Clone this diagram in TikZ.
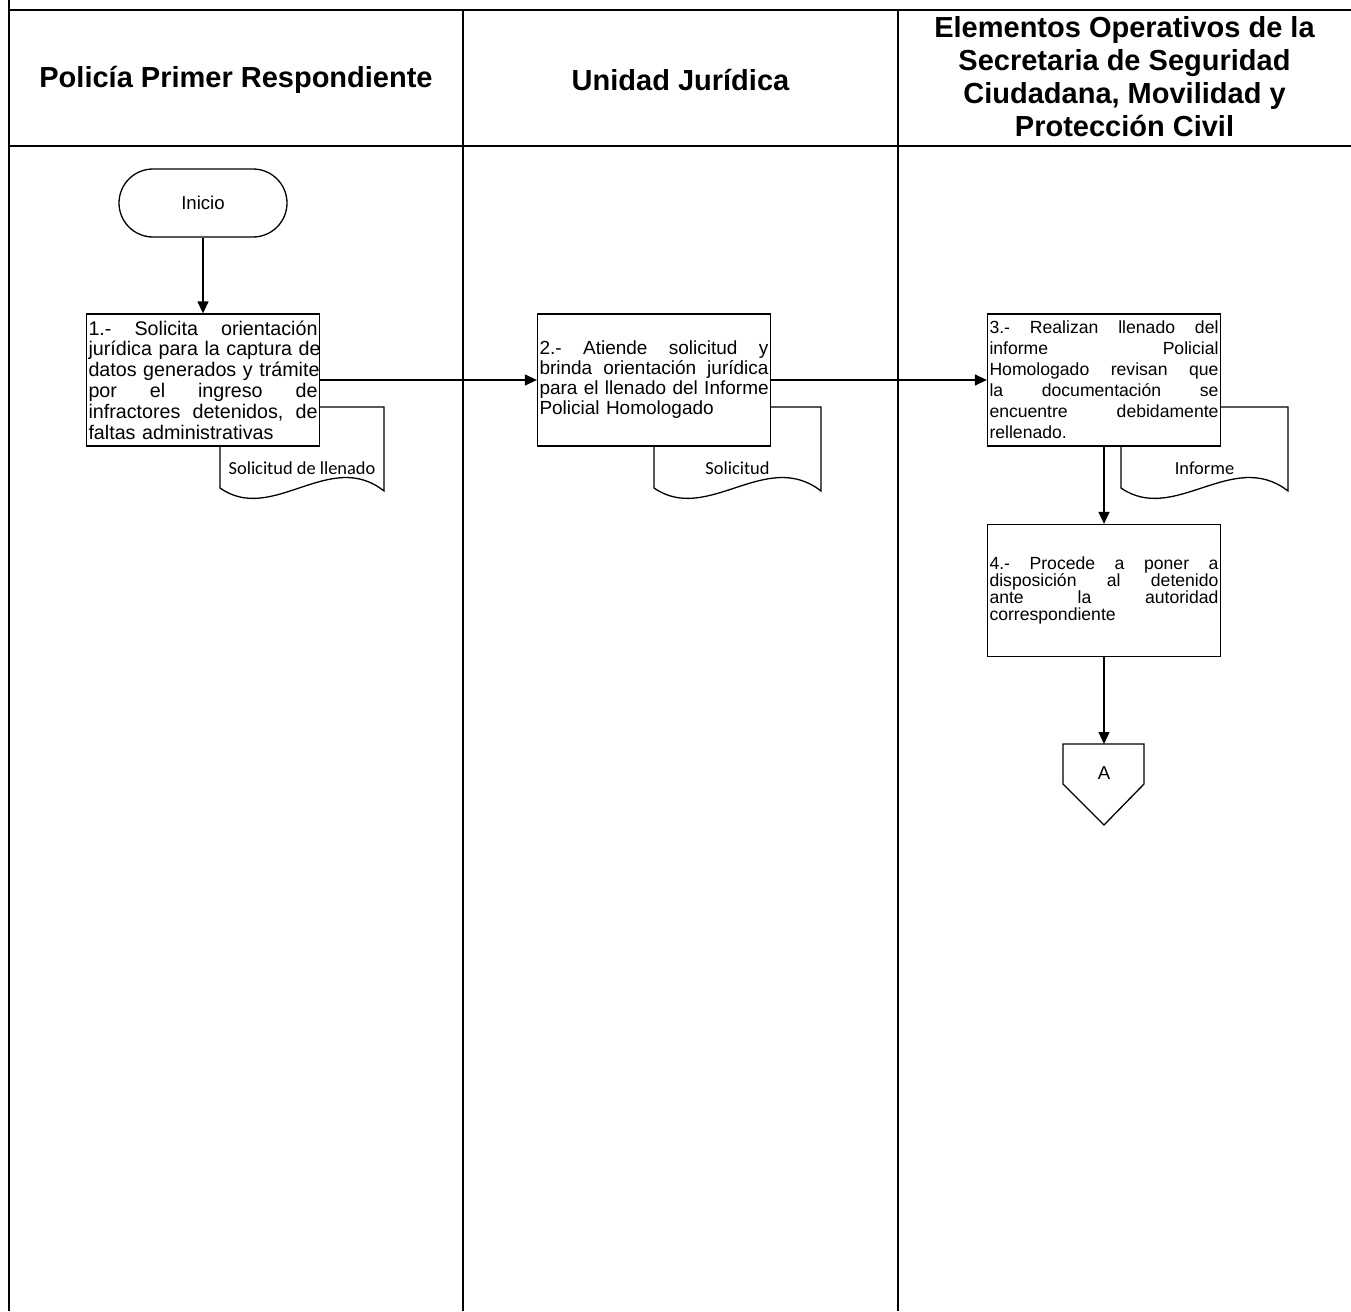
\documentclass[tikz,border=0pt]{standalone}
\usepackage{fontspec}
\setmainfont{Liberation Sans}
\newfontfamily\calib{Carlito}
\usetikzlibrary{arrows.meta}
\newcommand{\jline}[1]{\leavevmode\hbox to 229pt{#1}\\}
\newcommand{\docshape}[2]{%
  \draw[docstyle] (#1,407) -- (#2,407) -- (#2,491)
    .. controls ({#2-0.33*(#2-#1)},448) and ({#1+0.32*(#2-#1)},525) .. (#1,488) -- cycle;}
\begin{document}
\begin{tikzpicture}[x=1pt,y=-1pt,
  tbl/.style={line width=2pt},
  hdr/.style={font=\fontsize{29}{33}\selectfont\bfseries, align=center, inner sep=0pt},
  proc/.style={draw, line width=1.3pt, fill=white, minimum width=233pt, minimum height=132pt,
    inner sep=2pt, text width=229pt, align=left},
  docstyle/.style={draw, line width=1.3pt, fill=white},
  flow/.style={line width=1.3pt, -{Triangle[length=12pt,width=11pt]}},
  doclbl/.style={font=\calib\fontsize{18.4}{20}\selectfont, inner sep=0pt}
]
\useasboundingbox (0,0) rectangle (1351,1311);
% table
\draw[tbl] (9,0) -- (9,1311);
\draw[tbl] (8,10) -- (1351,10);
\draw[tbl] (8,146) -- (1351,146);
\draw[tbl] (463,10) -- (463,1311);
\draw[tbl] (898,10) -- (898,1311);
% headers
\node[hdr] (h1) at (236,80) {Policía Primer Respondiente};
\node[hdr] (h2) at (680.5,80) {Unidad Jurídica};
\node[hdr] (h3) at (1124.5,77) {Elementos Operativos de la\\Secretaria de Seguridad\\Ciudadana, Movilidad y\\Protección Civil};
% documents (behind boxes)
\docshape{220}{384}
\docshape{654}{821}
\docshape{1121}{1288}
\node[doclbl] (d1) at (302,468) {Solicitud de llenado};
\node[doclbl] (d2) at (737.5,468) {Solicitud};
\node[doclbl] (d3) at (1204.5,468) {Informe};
% start
\node[draw, line width=1.3pt, rounded corners=34pt, minimum width=168pt, minimum height=68pt,
  inner sep=0pt, font=\fontsize{18.6}{20}\selectfont] (start) at (203,203) {Inicio};
% process boxes
\node[proc, font=\fontsize{19.7}{20.8}\selectfont] (b1) at (203,380) {%
\jline{1.- \hfill Solicita \hfill orientación}
\jline{jurídica \hfill para \hfill la \hfill captura \hfill de}
\jline{datos \hfill generados \hfill y \hfill trámite}
\jline{por \hfill el \hfill ingreso \hfill de}
\jline{infractores \hfill detenidos, \hfill de}
faltas administrativas};
\node[proc, font=\fontsize{19}{20}\selectfont] (b2) at (654,380) {%
\jline{2.- \hfill Atiende \hfill solicitud \hfill y}
\jline{brinda \hfill orientación \hfill jurídica}
\jline{para \hfill el \hfill llenado \hfill del \hfill Informe}
Policial Homologado};
\node[proc, font=\fontsize{17.6}{21}\selectfont] (b3) at (1104,380) {%
\jline{3.- \hfill Realizan \hfill llenado \hfill del}
\jline{informe \hfill Policial}
\jline{Homologado \hfill revisan \hfill que}
\jline{la \hfill documentación \hfill se}
\jline{encuentre \hfill debidamente}
rellenado.};
\node[proc, font=\fontsize{17.6}{16.8}\selectfont] (b4) at (1104,590.5) {%
\jline{4.- \hfill Procede \hfill a \hfill poner \hfill a}
\jline{disposición \hfill al \hfill detenido}
\jline{ante \hfill la \hfill autoridad}
correspondiente};
% off-page connector
\coordinate (atop) at (1104,744);
\draw[line width=1.3pt, fill=white] (1063,744) -- (1144,744) -- (1144,784) -- (1104,825) -- (1063,784) -- cycle;
\node[font=\fontsize{18.6}{20}\selectfont, inner sep=0pt] (conA) at (1104,773) {A};
% connectors
\draw[flow] (start) -- (b1);
\draw[flow] (b1) -- (b2);
\draw[flow] (b2) -- (b3);
\draw[flow] (b3) -- (b4);
\draw[flow] (b4) -- (atop);
\end{tikzpicture}
\end{document}
